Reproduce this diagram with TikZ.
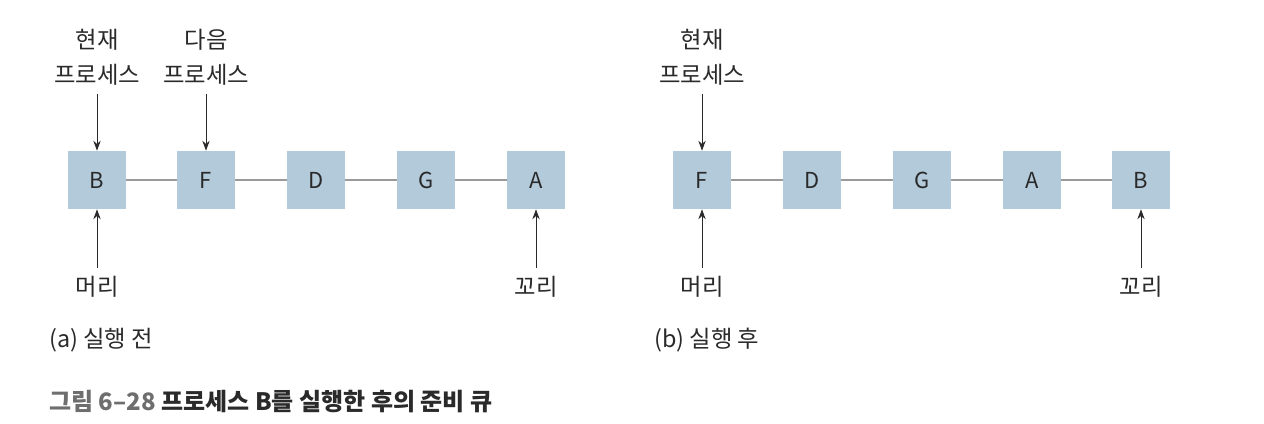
\documentclass[tikz,border=0pt]{standalone}
\usepackage{fontspec}
\setmainfont{Noto Sans CJK KR}
\usetikzlibrary{arrows.meta}
\definecolor{boxc}{HTML}{B3CADB}
\definecolor{linec}{HTML}{9A9A9A}
\definecolor{txtc}{HTML}{2A2A2A}
\definecolor{capg}{HTML}{6E6E6E}
\tikzset{
  qbox/.style={fill=boxc,draw=none,minimum width=43.5pt,minimum height=43.5pt,inner sep=0pt,font=\fontsize{16.5}{19}\selectfont,text=txtc},
  link/.style={draw=linec,line width=0.9pt},
  ptr/.style={draw=txtc,line width=0.7pt,-{Stealth[length=7.5pt,width=5.5pt]}},
  lbl/.style={font=\fontsize{17.5}{21}\selectfont,text=txtc,inner sep=0pt,align=center},
}
\begin{document}
\begin{tikzpicture}[x=0.75pt,y=-0.75pt]
\useasboundingbox (0,0) rectangle (1264,424);
% (a)
\node[qbox] (a1) at (97,180) {B};
\node[qbox] (a2) at (206,180) {F};
\node[qbox] (a3) at (316,180) {D};
\node[qbox] (a4) at (426,180) {G};
\node[qbox] (a5) at (536,180) {A};
\draw[link] (a1) -- (a2); \draw[link] (a2) -- (a3); \draw[link] (a3) -- (a4); \draw[link] (a4) -- (a5);
\node[lbl] (ac1) at (97,40) {현재};
\node[lbl] (ac2) at (97,75) {프로세스};
\node[lbl] (an1) at (206,40) {다음};
\node[lbl] (an2) at (206,75) {프로세스};
\coordinate (acs) at (97,94);
\coordinate (ans) at (206,94);
\draw[ptr] (acs) -- (a1.north);
\draw[ptr] (ans) -- (a2.north);
\node[lbl] (ah) at (97,287) {머리};
\node[lbl] (at) at (536,287) {꼬리};
\coordinate (ahs) at (97,268);
\coordinate (ats) at (536,268);
\draw[ptr] (ahs) -- (a1.south);
\draw[ptr] (ats) -- (a5.south);
\node[lbl,anchor=west] (acap) at (49,340) {(a) 실행 전};
% (b)
\node[qbox] (b1) at (702,180) {F};
\node[qbox] (b2) at (812,180) {D};
\node[qbox] (b3) at (922,180) {G};
\node[qbox] (b4) at (1032,180) {A};
\node[qbox] (b5) at (1141,180) {B};
\draw[link] (b1) -- (b2); \draw[link] (b2) -- (b3); \draw[link] (b3) -- (b4); \draw[link] (b4) -- (b5);
\node[lbl] (bc1) at (702,40) {현재};
\node[lbl] (bc2) at (702,75) {프로세스};
\coordinate (bcs) at (702,94);
\draw[ptr] (bcs) -- (b1.north);
\node[lbl] (bh) at (702,287) {머리};
\node[lbl] (bt) at (1141,287) {꼬리};
\coordinate (bhs) at (702,268);
\coordinate (bts) at (1141,268);
\draw[ptr] (bhs) -- (b1.south);
\draw[ptr] (bts) -- (b5.south);
\node[lbl,anchor=west] (bcap) at (654,340) {(b) 실행 후};
% caption
\node[anchor=west,inner sep=0pt,font=\fontsize{18}{21}\selectfont\bfseries] (cap) at (49,402) {\textcolor{capg}{그림 6–28} \textcolor{txtc}{프로세스 B를 실행한 후의 준비 큐}};
\end{tikzpicture}
\end{document}
